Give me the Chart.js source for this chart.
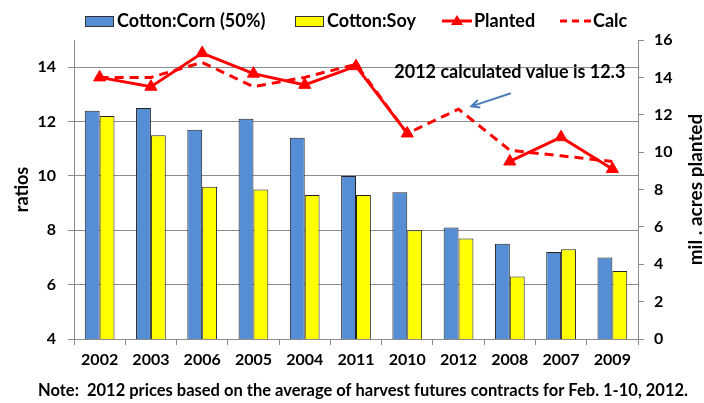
<!DOCTYPE html>
<html>
<head>
<meta charset="utf-8">
<script src="https://cdn.jsdelivr.net/npm/chart.js@4/dist/chart.umd.min.js"></script>
<style>
  html, body { margin: 0; padding: 0; background: #fff; }
</style>
</head>
<body>
<canvas id="cottonChart" width="704" height="403"></canvas>
<script>
// data
const years = ["2002", "2003", "2006", "2005", "2004", "2011", "2010", "2012", "2008", "2007", "2009"];
const cornRatio = [12.4, 12.5, 11.7, 12.1, 11.4, 10.0, 9.4, 8.1, 7.5, 7.2, 7.0];
const soyRatio = [12.2, 11.5, 9.6, 9.5, 9.3, 9.3, 8.0, 7.7, 6.3, 7.3, 6.5];
const planted = [14.0, 13.5, 15.3, 14.2, 13.6, 14.6, 11.0, null, 9.5, 10.8, 9.1];
const calc = [14.0, 14.0, 14.8, 13.5, 14.0, 14.7, 11.0, 12.3, 10.1, 9.8, 9.5];
const leftTicks = [4, 6, 8, 10, 12, 14];
const rightTicks = [0, 2, 4, 6, 8, 10, 12, 14, 16];
const note = "Note:  2012 prices based on the average of harvest futures contracts for Feb. 1-10, 2012.";
const callout = "2012 calculated value is 12.3";

const FONT = "Lato, 'Noto Sans', sans-serif";
const RED = "#ff0000";
const BLUE = "#558ed5";
const YELLOW = "#ffff00";
const GRID = "#8c8c8c";

// legend, axis titles, callout and note drawn by hand
const extras = {
  id: "extras",
  afterDraw(chart) {
    const ctx = chart.ctx;
    const area = chart.chartArea;
    const x = chart.scales.x;
    const yR = chart.scales.yR;
    const midY = (area.top + area.bottom) / 2;
    ctx.save();
    ctx.fillStyle = "#000";
    ctx.textBaseline = "middle";

    // legend
    ctx.font = "bold 18px " + FONT;
    ctx.textAlign = "left";
    ctx.lineWidth = 1;
    ctx.strokeStyle = "#333";
    ctx.fillStyle = BLUE;
    ctx.fillRect(85.5, 16.5, 28, 10);
    ctx.strokeRect(85.5, 16.5, 28, 10);
    ctx.fillStyle = YELLOW;
    ctx.fillRect(295.5, 16.5, 28, 10);
    ctx.strokeRect(295.5, 16.5, 28, 10);
    ctx.fillStyle = "#000";
    ctx.fillText("Cotton:Corn (50%)", 117, 21);
    ctx.fillText("Cotton:Soy", 327, 21);
    ctx.fillText("Planted", 474, 21);
    ctx.fillText("Calc", 593, 21);

    ctx.strokeStyle = RED;
    ctx.fillStyle = RED;
    ctx.lineWidth = 3;
    ctx.beginPath();
    ctx.moveTo(442, 21);
    ctx.lineTo(472, 21);
    ctx.stroke();
    ctx.beginPath();
    ctx.moveTo(457, 15);
    ctx.lineTo(463, 25);
    ctx.lineTo(451, 25);
    ctx.closePath();
    ctx.fill();
    ctx.setLineDash([7, 5]);
    ctx.beginPath();
    ctx.moveTo(560, 21);
    ctx.lineTo(592, 21);
    ctx.stroke();
    ctx.setLineDash([]);

    // axis titles
    ctx.fillStyle = "#000";
    ctx.font = "bold 18px " + FONT;
    ctx.textAlign = "center";
    ctx.save();
    ctx.translate(22, midY);
    ctx.rotate(-Math.PI / 2);
    ctx.fillText("ratios", 0, 0);
    ctx.restore();
    ctx.save();
    ctx.translate(696, midY);
    ctx.rotate(-Math.PI / 2);
    ctx.font = "bold 19px " + FONT;
    ctx.fillText("mil . acres planted", 0, 0);
    ctx.restore();

    // callout for 2012
    ctx.font = "bold 18px " + FONT;
    ctx.fillText(callout, x.getPixelForValue(8), yR.getPixelForValue(14.3));
    const x0 = x.getPixelForValue(8.02), y0 = yR.getPixelForValue(13.15);
    const x1 = x.getPixelForValue(7.25), y1 = yR.getPixelForValue(12.45);
    const ang = Math.atan2(y1 - y0, x1 - x0);
    ctx.strokeStyle = "#4a7ebb";
    ctx.lineWidth = 2;
    ctx.beginPath();
    ctx.moveTo(x0, y0);
    ctx.lineTo(x1, y1);
    ctx.moveTo(x1 + 9 * Math.cos(ang + Math.PI - 0.45), y1 + 9 * Math.sin(ang + Math.PI - 0.45));
    ctx.lineTo(x1, y1);
    ctx.lineTo(x1 + 9 * Math.cos(ang + Math.PI + 0.45), y1 + 9 * Math.sin(ang + Math.PI + 0.45));
    ctx.stroke();

    // note
    ctx.fillStyle = "#000";
    ctx.font = "bold 16.5px " + FONT;
    ctx.fillText(note, 363, 391);
    ctx.restore();
  }
};

new Chart(document.getElementById("cottonChart").getContext("2d"), {
  type: "bar",
  data: {
    labels: years,
    datasets: [
      {
        label: "Cotton:Corn (50%)",
        data: cornRatio,
        yAxisID: "y",
        backgroundColor: BLUE,
        borderColor: "#222",
        borderWidth: 1,
        order: 2
      },
      {
        label: "Cotton:Soy",
        data: soyRatio,
        yAxisID: "y",
        backgroundColor: YELLOW,
        borderColor: "#222",
        borderWidth: 1,
        order: 3
      },
      {
        type: "line",
        label: "Planted",
        data: planted,
        yAxisID: "yR",
        borderColor: RED,
        backgroundColor: RED,
        borderWidth: 3,
        pointStyle: "triangle",
        pointRadius: 7,
        pointBorderWidth: 1,
        pointBackgroundColor: RED,
        pointBorderColor: RED,
        spanGaps: false,
        order: 0
      },
      {
        type: "line",
        label: "Calc",
        data: calc,
        yAxisID: "yR",
        borderColor: RED,
        borderWidth: 3,
        borderDash: [9, 6],
        pointRadius: 0,
        order: 1
      }
    ]
  },
  options: {
    responsive: false,
    animation: false,
    layout: { padding: { top: 40, left: 0, right: 0, bottom: 30 } },
    datasets: {
      bar: { categoryPercentage: 0.58, barPercentage: 1.0 }
    },
    plugins: {
      legend: { display: false },
      tooltip: { enabled: false }
    },
    scales: {
      x: {
        offset: true,
        grid: { offset: true, drawOnChartArea: false, color: GRID, tickLength: 6 },
        border: { color: GRID },
        ticks: { color: "#000", padding: 5, font: { family: FONT, size: 16, weight: "bold" } },
        afterFit: (s) => { s.height = 34; }
      },
      y: {
        position: "left",
        min: 4,
        max: 15,
        afterBuildTicks: (s) => { s.ticks = leftTicks.map((v) => ({ value: v })); },
        grid: { color: GRID, tickLength: 6 },
        border: { color: GRID },
        ticks: { color: "#000", padding: 12, font: { family: FONT, size: 16, weight: "bold" } },
        afterFit: (s) => { s.width = 74; }
      },
      yR: {
        position: "right",
        min: 0,
        max: 16,
        afterBuildTicks: (s) => { s.ticks = rightTicks.map((v) => ({ value: v })); },
        grid: { drawOnChartArea: false, color: GRID, tickLength: 6 },
        border: { color: GRID },
        ticks: { color: "#000", padding: 10, font: { family: FONT, size: 16, weight: "bold" } },
        afterFit: (s) => { s.width = 66; }
      }
    }
  },
  plugins: [extras]
});
</script>
</body>
</html>
